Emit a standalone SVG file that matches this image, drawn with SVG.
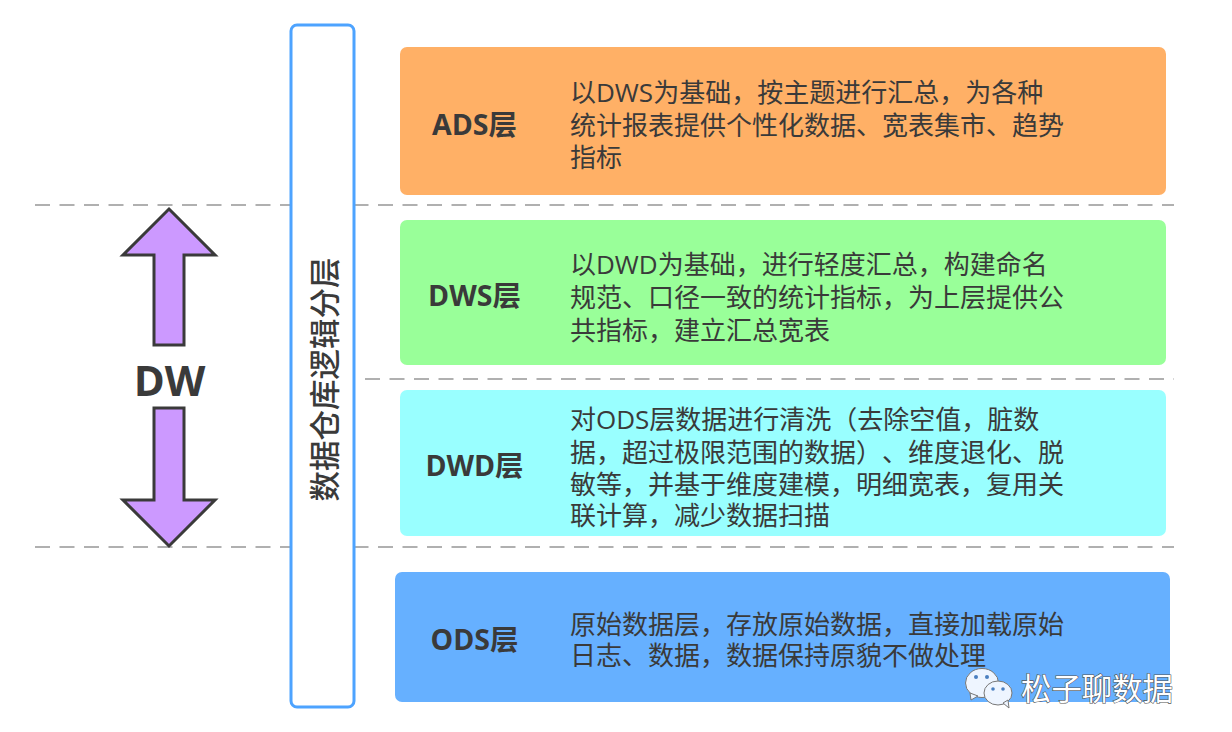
<svg xmlns="http://www.w3.org/2000/svg" width="1232" height="732" viewBox="0 0 1232 732">
<style>
text{font-family:"Open Sans","Noto Sans CJK SC",sans-serif;fill:#3a3a3a;text-spacing-trim:space-all}
.t{font-size:26px}
.h{font-size:28.500px;font-weight:700;text-anchor:middle}
.d{stroke:#b0b0b0;stroke-width:2;stroke-dasharray:15 9.500;fill:none}
.a{fill:#cc99ff;stroke:#3a3a3a;stroke-width:3;stroke-linejoin:miter}
.b{stroke:none}
.w{fill:#eef5ff;stroke:#777;stroke-width:1}
.e{fill:#4a7fc0}
</style>
<rect width="1232" height="732" fill="#fff"/>
<g id="connectors">
<path class="d" d="M35 205H1174"/>
<path class="d" d="M365 379H1174"/>
<path class="d" d="M35 547H1174"/>
</g>
<g id="arrows">
<path class="a" d="M169 209L215 255H184V345H154V255H123Z"/>
<path class="a" d="M154 408H184V500H215L169 546L123 500H154Z"/>
<text x="169.500" y="396" text-anchor="middle" font-size="42" font-weight="700">DW</text>
</g>
<g id="logic">
<rect x="291" y="25" width="63" height="682" rx="6" fill="#fff" stroke="#4da3ff" stroke-width="3"/>
<text transform="translate(336 379.500) rotate(-90)" text-anchor="middle" font-size="30.500" font-weight="500">数据仓库逻辑分层</text>
</g>
<g id="ads">
<rect class="b" x="400" y="47" width="766" height="148" rx="7" fill="#ffb066"/>
<text class="h" x="474.500" y="135">ADS层</text>
<text class="t"><tspan x="570" y="102">以DWS为基础，按主题进行汇总，为各种</tspan><tspan x="570" y="135">统计报表提供个性化数据、宽表集市、趋势</tspan><tspan x="570" y="167">指标</tspan></text>
</g>
<g id="dws">
<rect class="b" x="400" y="220" width="766" height="145" rx="7" fill="#99ff99"/>
<text class="h" x="474.500" y="306">DWS层</text>
<text class="t"><tspan x="570" y="274">以DWD为基础，进行轻度汇总，构建命名</tspan><tspan x="570" y="307">规范、口径一致的统计指标，为上层提供公</tspan><tspan x="570" y="340">共指标，建立汇总宽表</tspan></text>
</g>
<g id="dwd">
<rect class="b" x="400" y="390" width="766" height="146" rx="7" fill="#99ffff"/>
<text class="h" x="474.500" y="476">DWD层</text>
<text class="t"><tspan x="570" y="429">对ODS层数据进行清洗（去除空值，脏数</tspan><tspan x="570" y="462">据，超过极限范围的数据）、维度退化、脱</tspan><tspan x="570" y="494">敏等，并基于维度建模，明细宽表，复用关</tspan><tspan x="570" y="525">联计算，减少数据扫描</tspan></text>
</g>
<g id="ods">
<rect class="b" x="395" y="572" width="775" height="130" rx="7" fill="#66b0ff"/>
<text class="h" x="474.500" y="650">ODS层</text>
<text class="t"><tspan x="570" y="634">原始数据层，存放原始数据，直接加载原始</tspan><tspan x="570" y="665">日志、数据，数据保持原貌不做处理</tspan></text>
</g>
<g id="watermark">
<ellipse class="w" cx="982" cy="683" rx="16.500" ry="14.500"/>
<path class="w" d="M970 693L971 700L978 696Z"/>
<circle class="e" cx="976" cy="677" r="2"/><circle class="e" cx="987" cy="677" r="2"/>
<ellipse class="w" cx="998" cy="693" rx="14" ry="12"/>
<path class="w" d="M1003 703L1009 708L1008 700Z"/>
<circle class="e" cx="993" cy="689" r="1.800"/><circle class="e" cx="1003" cy="689" r="1.800"/>
<text x="1021" y="700" font-size="30.400" style="fill:#fff;stroke:#555;stroke-width:1.200;paint-order:stroke;font-weight:400">松子聊数据</text>
</g>
</svg>
